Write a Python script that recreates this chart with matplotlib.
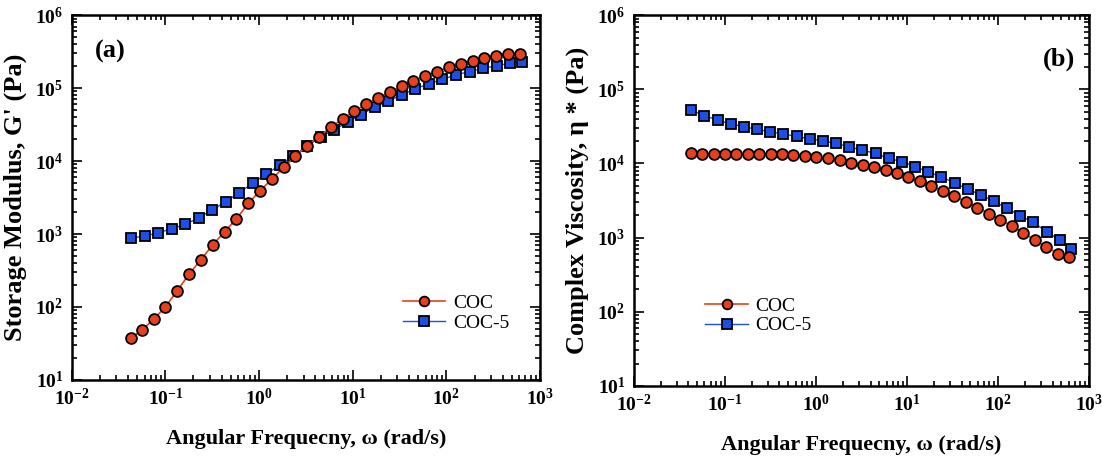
import matplotlib
matplotlib.use("Agg")
import matplotlib.pyplot as plt
from matplotlib.ticker import LogLocator, FixedLocator, NullFormatter

# ---- data ----
x_coc = [0.043, 0.057, 0.076, 0.10, 0.134, 0.18, 0.24, 0.32, 0.43, 0.57, 0.77,
         1.02, 1.37, 1.83, 2.45, 3.27, 4.37, 5.85, 7.8, 10.4, 14.0, 18.7, 25,
         33.4, 44.6, 59.7, 80, 107, 143, 191, 255, 341, 456, 610]
x_coc5 = [0.043, 0.06, 0.084, 0.117, 0.163, 0.227, 0.317, 0.442, 0.617, 0.86,
          1.2, 1.67, 2.33, 3.25, 4.54, 6.33, 8.83, 12.3, 17.2, 24, 33.5, 46.7,
          65.1, 90.8, 127, 177, 247, 344, 480, 640]

g_coc = [37, 49, 69, 100, 167, 283, 445, 705, 1080, 1590, 2640, 3880, 5650,
         8170, 11700, 16200, 21700, 29000, 38000, 48000, 60500, 73500, 89000,
         107000, 127000, 145000, 169000, 192000, 214000, 236000, 260000,
         276000, 297000, 290000]
g_coc5 = [880, 935, 1040, 1180, 1350, 1670, 2140, 2780, 3700, 5000, 6660, 8800,
          11700, 16000, 21300, 26900, 34000, 43500, 55000, 66500, 81000, 98000,
          115000, 132000, 152000, 169000, 187000, 203000, 220000, 225000]

eta_coc = [13650, 13370, 13370, 13370, 13370, 13370, 13370, 13370, 13370, 13100,
           12700, 12300, 11800, 11100, 10300, 9600, 8830, 8130, 7330, 6610,
           5720, 4990, 4270, 3650, 3030, 2540, 2110, 1730, 1440, 1170, 920,
           750, 610, 550]
eta_coc5 = [52500, 44000, 38500, 34000, 31300, 28800, 26800, 24900, 23200,
            21400, 20200, 18600, 16800, 15100, 13700, 11700, 10600, 9100, 7700,
            6600, 5480, 4500, 3780, 3070, 2490, 1980, 1600, 1200, 920, 695]

labels = ["COC", "COC-5"]
xlab = "Angular Frequecny, \u03c9 (rad/s)"
ylab_a = "Storage Modulus, G' (Pa)"
ylab_b = "Complex Viscosity, \u03b7 * (Pa)"

RED = "#e8401c"
BLUE = "#1d4fe6"
SERIF = "Liberation Serif"

plt.rcParams["font.family"] = [SERIF, "DejaVu Serif"]
plt.rcParams["font.weight"] = "bold"

fig = plt.figure(figsize=(11.02, 4.61), dpi=100)
ax_a = fig.add_axes([0.065, 0.176, 0.425, 0.791])
ax_b = fig.add_axes([0.575, 0.163, 0.413, 0.804])


def style(ax):
    ax.set_xscale("log")
    ax.set_yscale("log")
    ax.set_xlim(1e-2, 1e3)
    ax.set_ylim(1e1, 1e6)
    ax.xaxis.set_major_locator(FixedLocator([1e-2, 1e-1, 1, 1e1, 1e2, 1e3]))
    ax.yaxis.set_major_locator(FixedLocator([1e1, 1e2, 1e3, 1e4, 1e5, 1e6]))
    ax.xaxis.set_minor_locator(LogLocator(base=10, subs=range(2, 10), numticks=20))
    ax.yaxis.set_minor_locator(LogLocator(base=10, subs=range(2, 10), numticks=20))
    ax.xaxis.set_minor_formatter(NullFormatter())
    ax.yaxis.set_minor_formatter(NullFormatter())
    ax.tick_params(which="both", direction="in", top=True, right=True,
                   labelsize=14, width=1.2)
    ax.tick_params(which="major", length=7, pad=6)
    ax.tick_params(which="minor", length=3.5)
    for s in ax.spines.values():
        s.set_linewidth(1.8)


for ax, yr, yb, ylab in [(ax_a, g_coc, g_coc5, ylab_a), (ax_b, eta_coc, eta_coc5, ylab_b)]:
    ax.plot(x_coc, yr, color=RED, lw=1.2, marker="o", ms=7.8, mfc=RED,
            mec="black", mew=1.3, label=labels[0], zorder=3)
    ax.plot(x_coc5, yb, color=BLUE, lw=1.0, marker="s", ms=7.8, mfc=BLUE,
            mec="black", mew=1.3, label=labels[1], zorder=2)
    style(ax)
    ax.set_xlabel(xlab, fontsize=16, fontweight="bold", labelpad=14)
    ax.set_ylabel(ylab, fontsize=19, fontweight="bold", labelpad=6)

ax_a.text(0.05, 0.9, "(a)", transform=ax_a.transAxes, fontsize=19,
          fontweight="bold", va="center")
ax_b.text(0.9, 0.88, "(b)", transform=ax_b.transAxes, fontsize=19,
          fontweight="bold", va="center")

leg_a = ax_a.legend(loc="upper left", bbox_to_anchor=(0.69, 0.255), frameon=False,
                    prop={"family": SERIF, "size": 14, "weight": "normal"},
                    handlelength=2.2, handletextpad=0.4, labelspacing=0.1,
                    borderaxespad=0)
leg_b = ax_b.legend(loc="upper left", bbox_to_anchor=(0.14, 0.26), frameon=False,
                    prop={"family": SERIF, "size": 14, "weight": "normal"},
                    handlelength=2.2, handletextpad=0.4, labelspacing=0.1,
                    borderaxespad=0)
for leg in (leg_a, leg_b):
    for h in leg.legend_handles:
        h.set_markersize(7)

fig.savefig("out.png", dpi=100)
